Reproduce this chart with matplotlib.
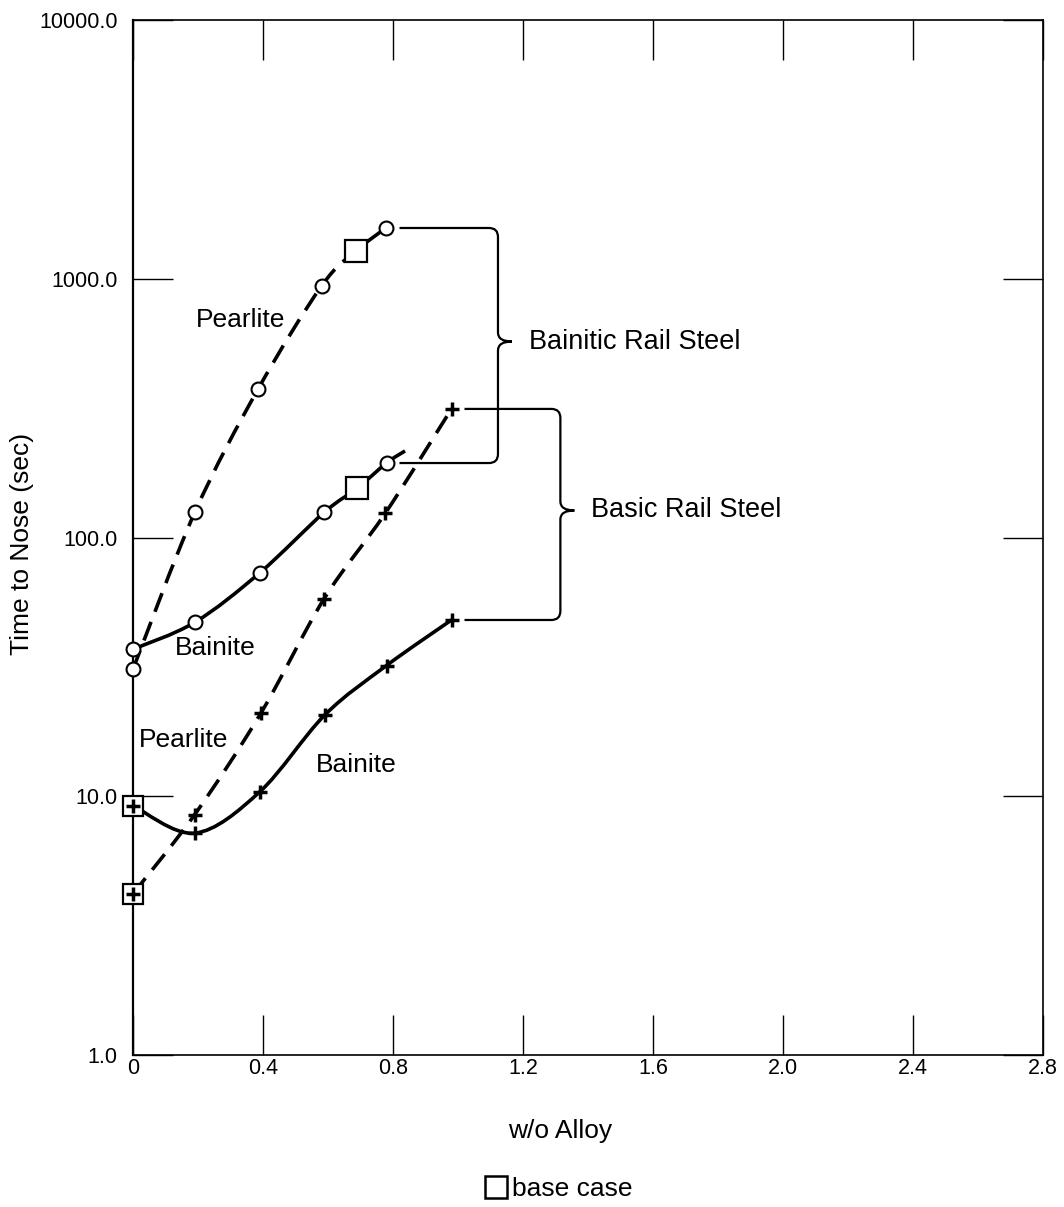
import numpy as np
import matplotlib
matplotlib.use("Agg")
import matplotlib.pyplot as plt
from matplotlib.path import Path
from matplotlib.patches import PathPatch
from matplotlib.lines import Line2D
from matplotlib.transforms import IdentityTransform

plt.rcParams['font.family'] = ['Liberation Sans', 'DejaVu Sans']

# ---- data ----
# Bainitic rail steel
bs_pearl_x = [0.0, 0.19, 0.385, 0.58, 0.686, 0.778]
bs_pearl_y = [31, 125, 375, 937, 1280, 1571]
bs_pearl_base = 4

bs_bain_x = [0.0, 0.19, 0.39, 0.588, 0.69, 0.78, 0.837]
bs_bain_y = [37, 47, 73, 125, 155, 194, 216]
bs_bain_base = 4
bs_bain_nmark = 6          # last point is only the line tail

# Basic rail steel
ba_pearl_x = [0.0, 0.19, 0.394, 0.588, 0.776, 0.98]
ba_pearl_y = [4.2, 8.5, 21, 58, 124, 314]
ba_pearl_base = 0

ba_bain_x = [0.0, 0.19, 0.39, 0.59, 0.78, 0.98]
ba_bain_y = [9.2, 7.2, 10.4, 20.6, 32, 48]
ba_bain_base = 0

x_ticks = [0, 0.4, 0.8, 1.2, 1.6, 2.0, 2.4, 2.8]
x_tick_labels = ['0', '0.4', '0.8', '1.2', '1.6', '2.0', '2.4', '2.8']
y_ticks = [1, 10, 100, 1000, 10000]
y_tick_labels = ['1.0', '10.0', '100.0', '1000.0', '10000.0']

W, H = 1064, 1207
fig = plt.figure(figsize=(W / 100, H / 100), dpi=100)
ax = fig.add_axes([133 / W, 1 - 1055 / H, 910 / W, 1035 / H])
ax.set_yscale('log')
ax.set_xlim(0, 2.8)
ax.set_ylim(1, 10000)
ax.set_xticks(x_ticks)
ax.set_xticklabels(x_tick_labels)
ax.set_yticks(y_ticks)
ax.set_yticklabels(y_tick_labels)
ax.minorticks_off()
ax.tick_params(direction='in', length=29, width=1.0, top=True, right=True,
               labelsize=15.5)
ax.tick_params(axis='x', pad=2)
ax.tick_params(axis='y', pad=11)
for s in ax.spines.values():
    s.set_linewidth(1.2)
ax.spines['left'].set_linewidth(1.6)

ax.set_ylabel('Time to Nose (sec)', fontsize=19)
ax.yaxis.set_label_coords(-0.109, 0.494)
ax.set_xlabel('w/o Alloy', fontsize=19)
ax.xaxis.set_label_coords(0.469, -0.062)


def smooth_path(xs, ys):
    # Catmull-Rom through the points, as cubic beziers in (x, log y)
    p = np.column_stack([xs, np.log10(ys)])
    q = np.vstack([p[0], p, p[-1]])
    verts = [p[0]]
    codes = [Path.MOVETO]
    for i in range(len(p) - 1):
        a, b, c, d = q[i], q[i + 1], q[i + 2], q[i + 3]
        c1 = b + (c - a) / 6
        c2 = c - (d - b) / 6
        verts += [c1, c2, c]
        codes += [Path.CURVE4] * 3
    verts = np.array(verts)
    verts[:, 1] = 10 ** verts[:, 1]
    return Path(verts, codes)


def curve(xs, ys, dashed):
    ls = (0, (5.5, 3)) if dashed else '-'
    ax.add_patch(PathPatch(smooth_path(xs, ys), fill=False, lw=2.6,
                           ec='black', linestyle=ls, capstyle='butt', zorder=2))


curve(bs_pearl_x, bs_pearl_y, True)
curve(bs_bain_x, bs_bain_y, False)
curve(ba_pearl_x, ba_pearl_y, True)
curve(ba_bain_x, ba_bain_y, False)

circ = dict(ls='none', marker='o', ms=10, mfc='white', mec='black', mew=1.5,
            zorder=4, clip_on=False)
sq = dict(ls='none', marker='s', ms=16, mfc='white', mec='black', mew=1.6,
          zorder=5, clip_on=False)
sq_small = dict(ls='none', marker='s', ms=14.5, mfc='white', mec='black', mew=1.6,
                zorder=5, clip_on=False)
plus = dict(ls='none', marker='+', ms=10.5, mec='black', mew=2.5, zorder=6,
            clip_on=False)

# bainitic steel markers
for xs, ys, base, n in [(bs_pearl_x, bs_pearl_y, bs_pearl_base, len(bs_pearl_x)),
                        (bs_bain_x, bs_bain_y, bs_bain_base, bs_bain_nmark)]:
    idx = [i for i in range(n) if i != base]
    ax.plot([xs[i] for i in idx], [ys[i] for i in idx], **circ)
    ax.plot([xs[base]], [ys[base]], **sq)

# basic steel markers
for xs, ys, base in [(ba_pearl_x, ba_pearl_y, ba_pearl_base),
                     (ba_bain_x, ba_bain_y, ba_bain_base)]:
    ax.plot([xs[base]], [ys[base]], **sq_small)
    ax.plot(xs, ys, **plus)

# curve labels
lab = dict(fontsize=19, va='center', ha='left')
ax.text(0.194, 693, 'Pearlite', **lab)
ax.text(0.129, 37.4, 'Bainite', **lab)
ax.text(0.018, 16.5, 'Pearlite', **lab)
ax.text(0.563, 13.2, 'Bainite', **lab)

# braces
fig.canvas.draw()
td = ax.transData


def brace(y_top, y_bot, x_start, x_vert, label):
    (xs0, yt), = td.transform([(x_start, y_top)])
    (_, yb), = td.transform([(x_start, y_bot)])
    (xv, _), = td.transform([(x_vert, y_top)])
    ym = (yt + yb) / 2 + 4
    r, w, h = 9, 14, 9
    verts = [(xs0, yt), (xv - r, yt), (xv, yt), (xv, yt - r),
             (xv, ym + h), (xv, ym), (xv + w, ym),
             (xv, ym), (xv, ym - h),
             (xv, yb + r), (xv, yb), (xv - r, yb), (xs0, yb)]
    codes = [Path.MOVETO, Path.LINETO, Path.CURVE3, Path.CURVE3,
             Path.LINETO, Path.CURVE3, Path.CURVE3,
             Path.CURVE3, Path.CURVE3,
             Path.LINETO, Path.CURVE3, Path.CURVE3, Path.LINETO]
    fig.add_artist(PathPatch(Path(verts, codes), fill=False, lw=1.6, ec='black',
                             transform=IdentityTransform(), zorder=3))
    fig.text((xv + w + 17) / W, ym / H, label, fontsize=19.5, va='center', ha='left')


brace(bs_pearl_y[-1], bs_bain_y[bs_bain_nmark - 1], 0.82, 1.123, 'Bainitic Rail Steel')
brace(ba_pearl_y[-1], ba_bain_y[-1], 1.02, 1.315, 'Basic Rail Steel')

# base case key
proxy = Line2D([], [], ls='none', marker='s', ms=16, mfc='white', mec='black', mew=1.8)
fig.legend([proxy], ['base case'], loc='center', bbox_to_anchor=(558 / W, 1 - 1189 / H),
           frameon=False, fontsize=19, handletextpad=0.1, handlelength=1.0)

fig.savefig('out.png', dpi=100)
